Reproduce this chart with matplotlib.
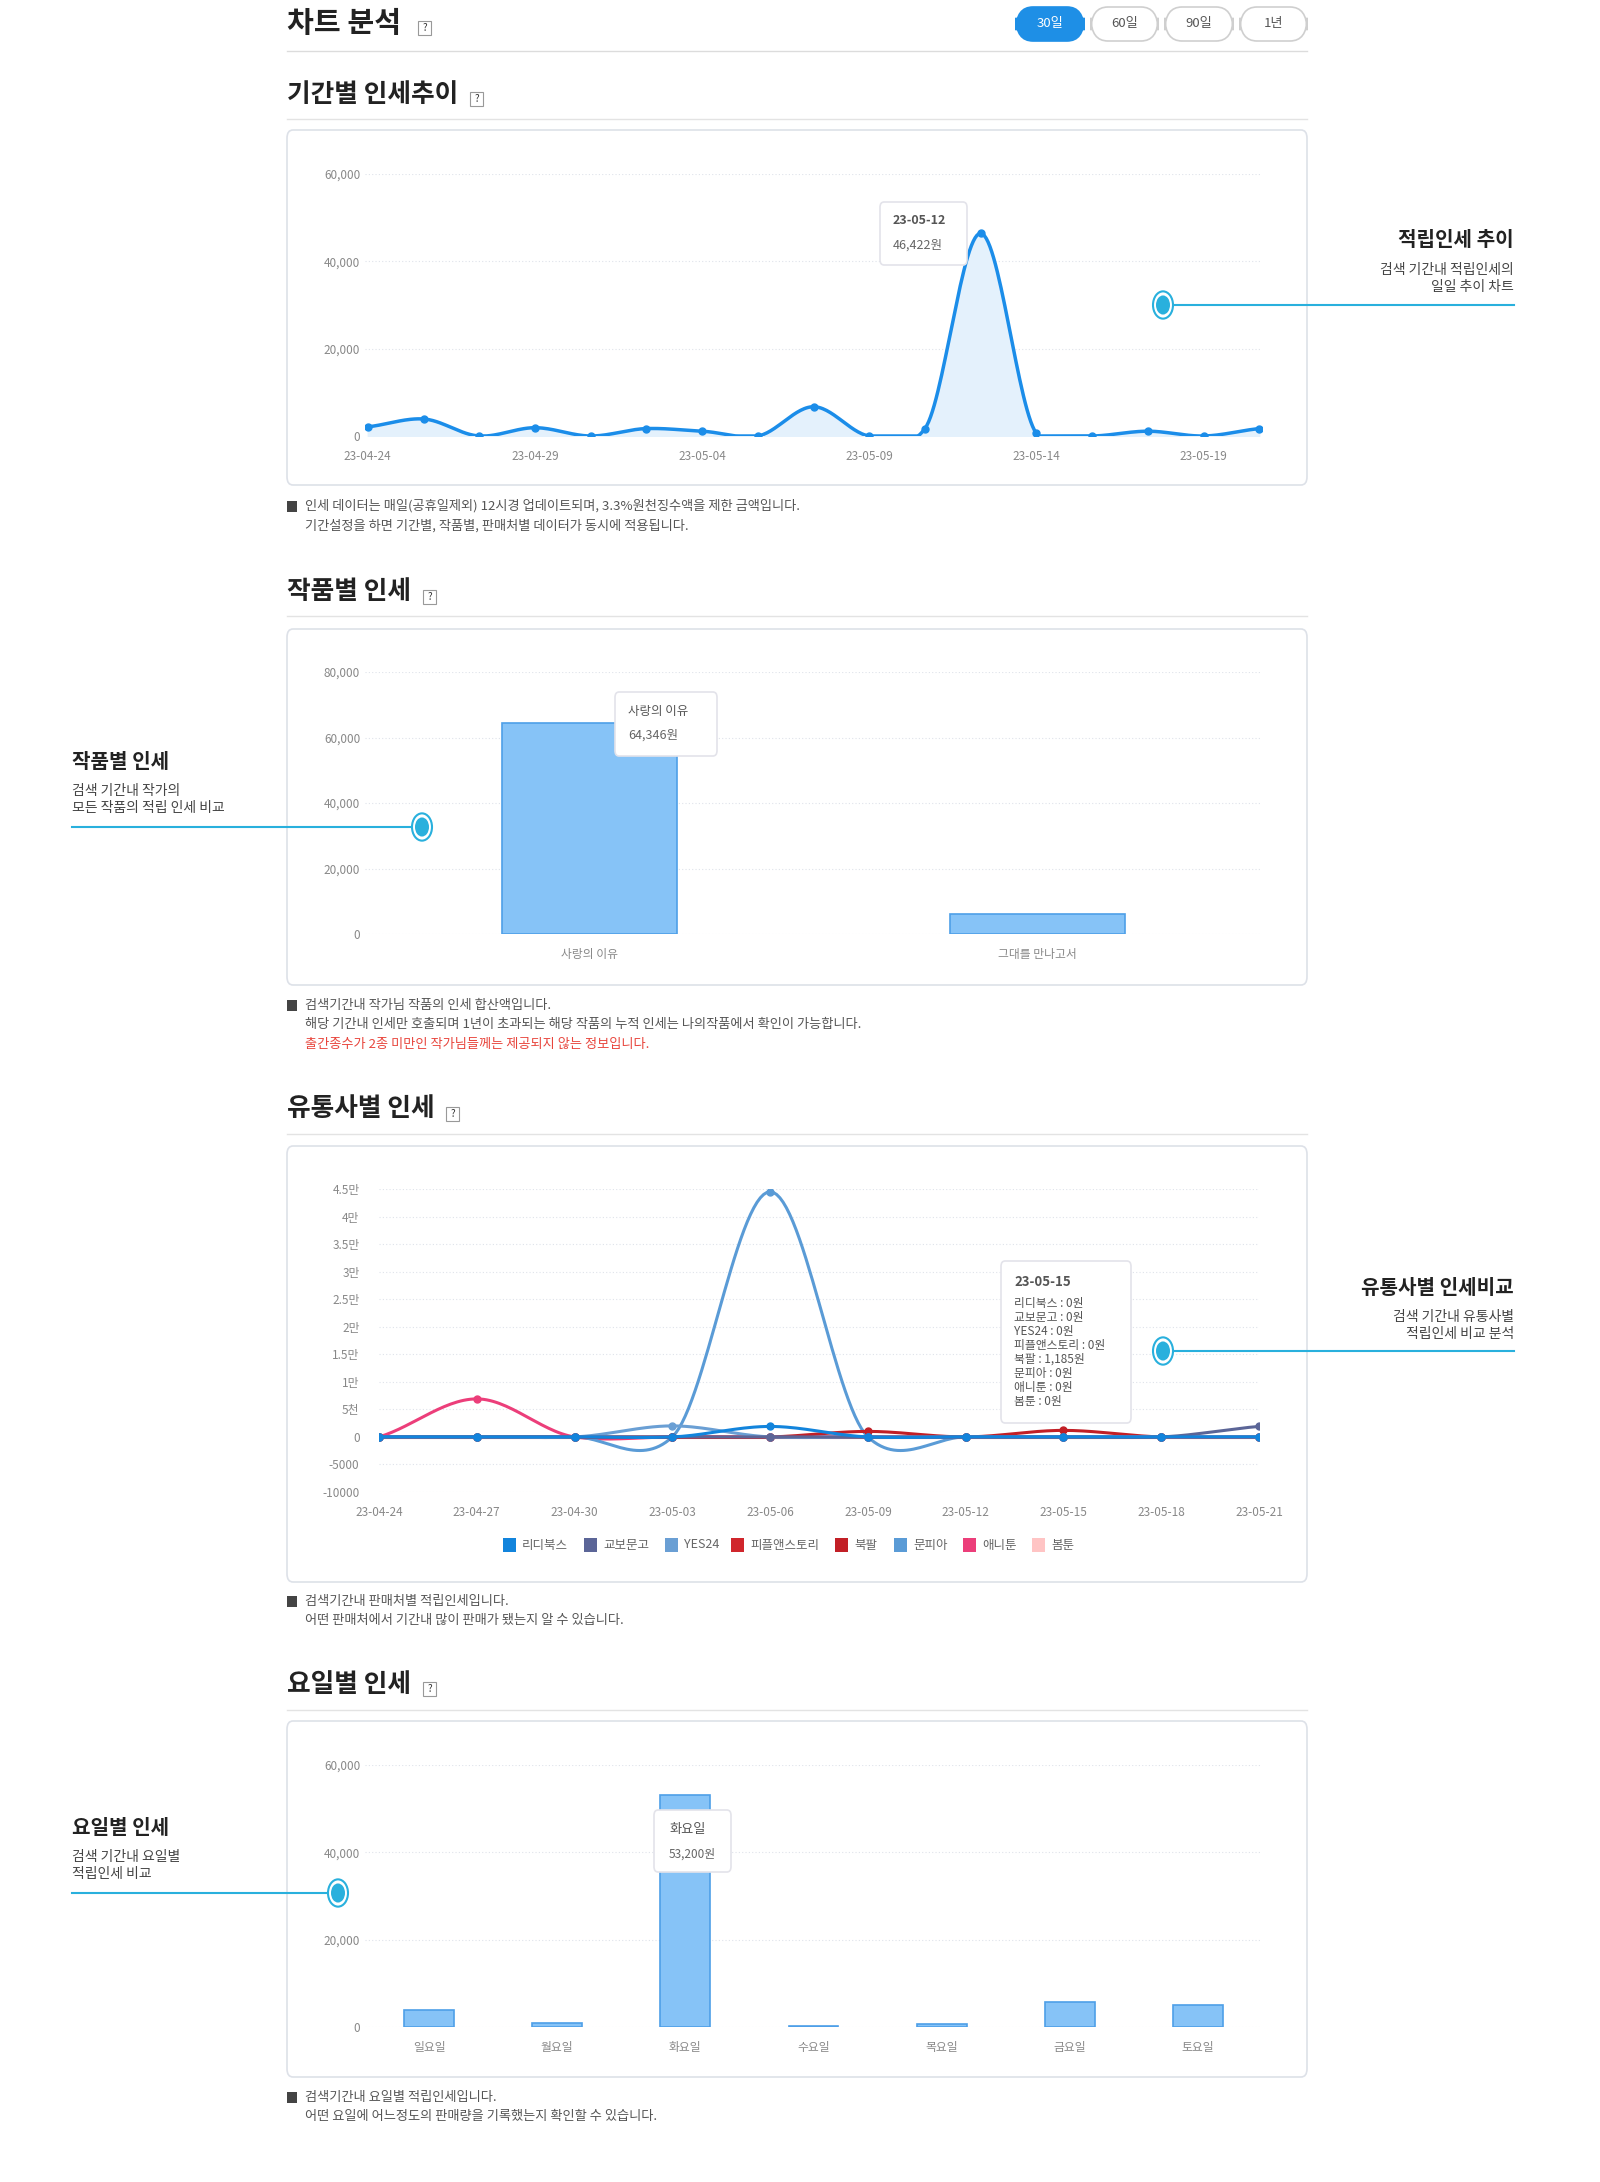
import numpy as np
import matplotlib
matplotlib.use("Agg")
import matplotlib.pyplot as plt
from matplotlib.patches import FancyBboxPatch, Rectangle, Circle
from matplotlib.lines import Line2D

plt.rcParams["font.family"] = "Noto Sans CJK KR"

W, H = 1600, 2182

# ---------------- data ----------------
trend_dates = ['23-04-24','23-04-25','23-04-27','23-04-29','23-04-30','23-05-02','23-05-04','23-05-06',
               '23-05-07','23-05-09','23-05-10','23-05-12','23-05-14','23-05-16','23-05-17','23-05-19','23-05-20']
trend_values = [2100, 3900, 0, 1900, 0, 1700, 1100, 0, 6700, 0, 1700, 46422, 600, 0, 1100, 0, 1700]

works = ['사랑의 이유', '그대를 만나고서']
work_values = [64346, 6200]

store_dates = ['23-04-24','23-04-27','23-04-30','23-05-03','23-05-06','23-05-09','23-05-12','23-05-15','23-05-18','23-05-21']
stores = ['리디북스','교보문고','YES24','피플앤스토리','북팔','문피아','애니툰','봄툰']
store_colors = ['#1284dc','#5b6597','#6a9fd4','#d0262c','#c21f26','#5a9bd6','#ec3e7a','#ffc4c4']
ridibooks = [0, 0, 0, 0, 1900, 0, 0, 0, 0, 0]
kyobo     = [0, 0, 0, 0, 0, 0, 0, 0, 0, 1900]
yes24     = [0, 0, 0, 2000, 0, 0, 0, 0, 0, 0]
peoplestory = [0, 0, 0, 0, 0, 0, 0, 0, 0, 0]
bookpal   = [0, 0, 0, 0, 0, 1000, 0, 1185, 0, 0]
munpia    = [0, 0, 0, 0, 44500, 0, 0, 0, 0, 0]
anytoon   = [0, 6900, 0, 0, 0, 0, 0, 0, 0, 0]
bomtoon   = [0, 0, 0, 0, 0, 0, 0, 0, 0, 0]
store_series = [ridibooks, kyobo, yes24, peoplestory, bookpal, munpia, anytoon, bomtoon]

weekdays = ['일요일','월요일','화요일','수요일','목요일','금요일','토요일']
weekday_values = [3800, 1000, 53200, 200, 700, 5700, 5000]

# ---------------- helpers ----------------
fig = plt.figure(figsize=(W/100, H/100), dpi=100)
fig.patch.set_facecolor('white')

def fx(x): return x / W
def fy(y): return 1 - y / H

def text(x, y, s, **kw):
    kw.setdefault('va', 'center')
    fig.text(fx(x), fy(y), s, **kw)

def hline(x0, x1, y, color='#e3e3e3', lw=1.0):
    fig.add_artist(Line2D([fx(x0), fx(x1)], [fy(y), fy(y)], color=color, lw=lw))

def box(x0, y0, x1, y1, fc='white', ec='#dde1e8', r=6, lw=1.2, z=0):
    p = FancyBboxPatch((fx(x0), fy(y1)), fx(x1 - x0), (y1 - y0) / H,
                       boxstyle=f"round,pad=0,rounding_size={r/W}",
                       transform=fig.transFigure, fc=fc, ec=ec, lw=lw, zorder=z)
    fig.add_artist(p)

def qmark(x, y):
    fig.add_artist(Rectangle((fx(x), fy(y + 8)), 13/W, 14/H, transform=fig.transFigure,
                             fc='white', ec='#999', lw=0.8))
    text(x + 6.5, y + 1, '?', fontsize=7, ha='center', color='#333')

def section(y, title, qx):
    text(287, y, title, fontsize=18.5, fontweight='bold', color='#222')
    qmark(qx, y + 4)

def spline(xs, ys, n=30, k=0.75):
    xs = np.asarray(xs, float); ys = np.asarray(ys, float)
    m = len(xs)
    t = np.zeros(m)
    for i in range(m):
        a = max(i - 1, 0); b = min(i + 1, m - 1)
        t[i] = k * (ys[b] - ys[a]) / (xs[b] - xs[a])
    ox, oy = [], []
    for i in range(m - 1):
        h = xs[i + 1] - xs[i]
        s = np.linspace(0, 1, n, endpoint=(i == m - 2))
        h00 = 2*s**3 - 3*s**2 + 1; h10 = s**3 - 2*s**2 + s
        h01 = -2*s**3 + 3*s**2; h11 = s**3 - s**2
        ox.append(xs[i] + s*h)
        oy.append(h00*ys[i] + h10*h*t[i] + h01*ys[i+1] + h11*h*t[i+1])
    return np.concatenate(ox), np.concatenate(oy)

def make_ax(x0, y0, x1, y1):
    ax = fig.add_axes([fx(x0), fy(y1), fx(x1 - x0), (y1 - y0) / H])
    ax.set_facecolor('none')
    for s in ax.spines.values():
        s.set_visible(False)
    ax.tick_params(length=0, labelsize=8.5, colors='#888')
    ax.grid(axis='y', color='#dfe3ea', ls=(0, (1, 2)), lw=0.8)
    ax.set_axisbelow(True)
    return ax

def annot(cx, cy, x_end):
    hline(min(cx, x_end), max(cx, x_end), cy, color='#29b0dd', lw=1.5)
    fig.add_artist(Circle((fx(cx), fy(cy)), 10/W, transform=fig.transFigure, fc='white', ec='#29b0dd', lw=1.5, zorder=5))
    fig.add_artist(Circle((fx(cx), fy(cy)), 7/W, transform=fig.transFigure, fc='#29b0dd', ec='none', zorder=6))

def label_block(x, y, title, subs, ha):
    text(x, y, title, fontsize=14.5, fontweight='bold', color='#222', ha=ha)
    for i, s in enumerate(subs):
        text(x, y + 30 + i * 17, s, fontsize=10, color='#444', ha=ha)

def note(y, lines, colors=None):
    fig.add_artist(Rectangle((fx(287), fy(y + 6)), 10/W, 11/H, transform=fig.transFigure, fc='#444', ec='none'))
    for i, s in enumerate(lines):
        c = colors[i] if colors else '#555'
        text(305, y + i * 19.5, s, fontsize=9.5, color=c)

# ---------------- header ----------------
text(287, 23, '차트 분석', fontsize=21, fontweight='bold', color='#222')
qmark(418, 27)
hline(287, 1307, 51, color='#dcdcdc')
for i, (lbl, x0, x1) in enumerate([('30일', 1016, 1084), ('60일', 1091, 1158), ('90일', 1165, 1233), ('1년', 1240, 1307)]):
    if i == 0:
        box(x0, 7, x1, 41, fc='#1e8fe6', ec='#1e8fe6', r=17)
        text((x0 + x1) / 2, 24, lbl, fontsize=9.5, color='white', ha='center')
    else:
        box(x0, 7, x1, 41, fc='white', ec='#cfcfcf', r=17)
        text((x0 + x1) / 2, 24, lbl, fontsize=9.5, color='#555', ha='center')

# ---------------- section 1 ----------------
section(94, '기간별 인세추이', 470)
hline(287, 1307, 119)
box(287, 130, 1307, 485)
ax = make_ax(365, 174, 1262, 436)
x = np.arange(len(trend_values))
sx, sy = spline(x, trend_values)
sy = np.maximum(sy, 0)
ax.fill_between(sx, sy, 0, color='#e4f1fc')
ax.plot(sx, sy, color='#1b8de9', lw=2.5)
ax.plot(x, trend_values, 'o', color='#1b8de9', ms=5)
ax.set_ylim(0, 60000); ax.set_yticks([0, 20000, 40000, 60000])
ax.set_yticklabels(['0', '20,000', '40,000', '60,000'])
ax.set_xlim(-0.05, len(x) - 1 + 0.05)
ax.set_xticks(x[::3]); ax.set_xticklabels([trend_dates[i] for i in x[::3]])
ax.tick_params(axis='x', pad=10)
box(880, 202, 967, 265, fc='white', ec='#e3e3ea', r=4, z=7)
text(893, 221, '23-05-12', fontsize=9, fontweight='bold', color='#555', zorder=8)
text(893, 245, '46,422원', fontsize=9, color='#666', zorder=8)
annot(1163, 305, 1514)
label_block(1514, 240, '적립인세 추이', ['검색 기간내 적립인세의', '일일 추이 차트'], 'right')
note(506, ['인세 데이터는 매일(공휴일제외) 12시경 업데이트되며, 3.3%원천징수액을 제한 금액입니다.',
           '기간설정을 하면 기간별, 작품별, 판매처별 데이터가 동시에 적용됩니다.'])

# ---------------- section 2 ----------------
section(592, '작품별 인세', 423)
hline(287, 1307, 616)
box(287, 629, 1307, 985)
ax = make_ax(365, 672, 1262, 934)
ax.bar(np.arange(2), work_values, width=0.39, color='#86c3f7', edgecolor='#4e9fe8', lw=1.2)
ax.set_xlim(-0.5, 1.5)
ax.set_ylim(0, 80000); ax.set_yticks(range(0, 80001, 20000))
ax.set_yticklabels(['0', '20,000', '40,000', '60,000', '80,000'])
ax.set_xticks([0, 1]); ax.set_xticklabels(works)
ax.tick_params(axis='x', pad=10)
box(615, 692, 717, 756, fc='white', ec='#e3e3ea', r=4, z=7)
text(628, 712, '사랑의 이유', fontsize=9, color='#555', zorder=8)
text(628, 735, '64,346원', fontsize=9, color='#666', zorder=8)
annot(422, 827, 72)
label_block(72, 761, '작품별 인세', ['검색 기간내 작가의', '모든 작품의 적립 인세 비교'], 'left')
note(1005, ['검색기간내 작가님 작품의 인세 합산액입니다.',
            '해당 기간내 인세만 호출되며 1년이 초과되는 해당 작품의 누적 인세는 나의작품에서 확인이 가능합니다.',
            '출간종수가 2종 미만인 작가님들께는 제공되지 않는 정보입니다.'],
     ['#555', '#555', '#e8453c'])

# ---------------- section 3 ----------------
section(1109, '유통사별 인세', 446)
hline(287, 1307, 1134)
box(287, 1146, 1307, 1582)
ax = make_ax(379, 1189, 1259, 1492)
x = np.arange(len(store_dates))
for name, col, vals in reversed(list(zip(stores, store_colors, store_series))):
    sx, sy = spline(x, vals)
    ax.plot(sx, sy, color=col, lw=2.2)
    ax.plot(x, vals, 'o', color=col, ms=5)
ax.set_ylim(-10000, 45000)
ax.set_yticks(range(-10000, 45001, 5000))
ax.set_yticklabels(['-10000', '-5000', '0', '5천', '1만', '1.5만', '2만', '2.5만', '3만', '3.5만', '4만', '4.5만'])
ax.set_xlim(0, len(x) - 1)
ax.set_xticks(x); ax.set_xticklabels(store_dates)
ax.tick_params(axis='x', pad=10)
ax.tick_params(axis='y', pad=14)
# legend
legend_x = [503, 584, 665, 731, 835, 894, 963, 1032]
for name, col, lx in zip(stores, store_colors, legend_x):
    fig.add_artist(Rectangle((fx(lx), fy(1552)), 13/W, 14/H, transform=fig.transFigure, fc=col, ec='none'))
    text(lx + 19, 1545, name, fontsize=9, color='#666')
box(1001, 1261, 1131, 1423, fc='white', ec='#e3e3ea', r=4, z=7)
text(1014, 1282, '23-05-15', fontsize=9.5, fontweight='bold', color='#555', zorder=8)
for i, s in enumerate(['리디북스 : 0원', '교보문고 : 0원', 'YES24 : 0원', '피플앤스토리 : 0원', '북팔 : 1,185원',
                       '문피아 : 0원', '애니툰 : 0원', '봄툰 : 0원']):
    text(1014, 1303 + i * 14, s, fontsize=8.5, color='#555', zorder=8)
annot(1163, 1351, 1514)
label_block(1514, 1287, '유통사별 인세비교', ['검색 기간내 유통사별', '적립인세 비교 분석'], 'right')
note(1601, ['검색기간내 판매처별 적립인세입니다.',
            '어떤 판매처에서 기간내 많이 판매가 됐는지 알 수 있습니다.'])

# ---------------- section 4 ----------------
section(1684, '요일별 인세', 423)
hline(287, 1307, 1710)
box(287, 1721, 1307, 2077)
ax = make_ax(365, 1765, 1262, 2027)
ax.bar(np.arange(7), weekday_values, width=0.39, color='#86c3f7', edgecolor='#4e9fe8', lw=1.2)
ax.set_xlim(-0.5, 6.5)
ax.set_ylim(0, 60000); ax.set_yticks([0, 20000, 40000, 60000])
ax.set_yticklabels(['0', '20,000', '40,000', '60,000'])
ax.set_xticks(range(7)); ax.set_xticklabels(weekdays)
ax.tick_params(axis='x', pad=10)
box(654, 1810, 731, 1872, fc='white', ec='#e3e3ea', r=4, z=7)
text(669, 1830, '화요일', fontsize=9.5, color='#555', zorder=8)
text(669, 1854, '53,200원', fontsize=8.5, color='#666', zorder=8)
annot(338, 1893, 72)
label_block(72, 1827, '요일별 인세', ['검색 기간내 요일별', '적립인세 비교'], 'left')
note(2097, ['검색기간내 요일별 적립인세입니다.',
            '어떤 요일에 어느정도의 판매량을 기록했는지 확인할 수 있습니다.'])

fig.savefig('out.png', dpi=100, facecolor='white')
